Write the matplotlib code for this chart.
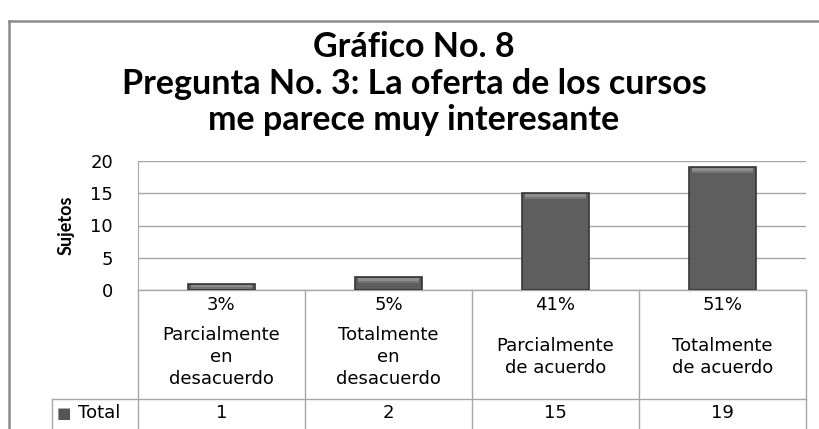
import numpy as np
import matplotlib.pyplot as plt

categorias = ["Parcialmente\nen\ndesacuerdo", "Totalmente\nen\ndesacuerdo",
              "Parcialmente\nde acuerdo", "Totalmente\nde acuerdo"]
totales = [1, 2, 15, 19]
porcentajes = ["3%", "5%", "41%", "51%"]
titulo = ["Gráfico No. 8", "Pregunta No. 3: La oferta de los cursos",
          "me parece muy interesante"]


def main():
    fig = plt.figure(figsize=(8.2, 4.29), dpi=100)
    W, H = 820.0, 429.0

    # outer chart frame (only top and left edges are inside the picture)
    fig.add_artist(plt.Line2D([9 / W, 1.1], [1 - 21 / H] * 2,
                              transform=fig.transFigure, color="#8c8c8c", lw=1.8))
    fig.add_artist(plt.Line2D([9 / W] * 2, [-0.1, 1 - 21 / H],
                              transform=fig.transFigure, color="#8c8c8c", lw=1.8))

    for i, linea in enumerate(titulo):
        fig.text(414 / W, 1 - (47 + 36.5 * i) / H, linea, ha="center",
                 va="center", fontsize=24.5, fontweight="bold", family="Lato")

    ax = fig.add_axes([138 / W, 1 - 290 / H, 668 / W, 129 / H])
    x = np.arange(len(totales))
    ax.bar(x, totales, width=0.40, color="#5e5e5e", edgecolor="#363636",
           lw=1.2, zorder=3)
    # lighter bevel band on top of each bar
    ax.bar(x, 0.45, bottom=np.array(totales) - 0.6, width=0.37,
           color="#8e8e8e", lw=0, zorder=4)
    ax.bar(x, 0.3, bottom=np.array(totales) - 0.9, width=0.37,
           color="#747474", lw=0, zorder=4)
    ax.set_xlim(-0.5, len(totales) - 0.5)
    ax.set_ylim(0, 20)
    ax.set_yticks([0, 5, 10, 15, 20])
    ax.yaxis.grid(True, color="#a6a6a6", lw=1.0, zorder=0)
    ax.set_xticks([])
    ax.tick_params(axis="y", length=0, pad=18, labelsize=13)
    for s in ["top", "right", "bottom"]:
        ax.spines[s].set_visible(False)
    ax.spines["left"].set_color("#a6a6a6")
    ax.set_ylabel("Sujetos", family="Lato", fontweight="bold", fontsize=13)
    ax.yaxis.set_label_coords(-63 / 668.0, 0.5)

    # data table under the plot
    tr = ax.get_xaxis_transform()
    lc = "#a6a6a6"
    px = 1 / 129.0
    y_head = -109 * px
    y_bot = -145 * px
    x_left = -0.5 - 86 / 167.0
    n = len(totales)
    ax.plot([-0.5, n - 0.5], [0, 0], color=lc, lw=1, transform=tr, clip_on=False)
    ax.plot([x_left, n - 0.5], [y_head, y_head], color=lc, lw=1, transform=tr,
            clip_on=False)
    for b in np.arange(n + 1) - 0.5:
        ax.plot([b, b], [0, y_bot], color=lc, lw=1, transform=tr, clip_on=False)
    ax.plot([x_left, x_left], [y_head, y_bot], color=lc, lw=1, transform=tr,
            clip_on=False)

    for i in range(n):
        ax.text(x[i], -15 * px, porcentajes[i], ha="center", va="center",
                fontsize=13, transform=tr)
        ax.text(x[i], -67 * px, categorias[i], ha="center", va="center",
                fontsize=13, linespacing=1.28, transform=tr)
        ax.text(x[i], -123 * px, str(totales[i]), ha="center", va="center",
                fontsize=13, transform=tr)

    ax.text(-0.5 - 74 / 167.0, -123 * px, "■", color="#555555", ha="center",
            va="center", fontsize=11, transform=tr)
    ax.text(-0.5 - 60 / 167.0, -123 * px, "Total", ha="left", va="center",
            fontsize=13, transform=tr)

    fig.savefig("out.png", dpi=100)


if __name__ == "__main__":
    main()
